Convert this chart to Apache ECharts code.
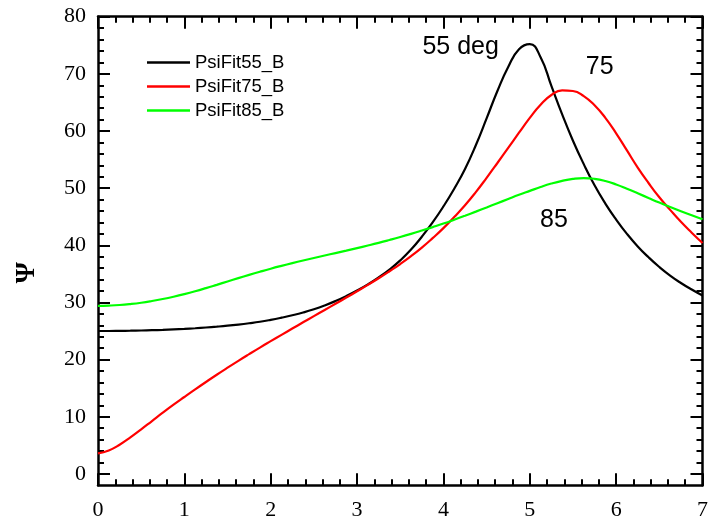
<!DOCTYPE html>
<html>
<head>
<meta charset="utf-8">
<script src="https://cdn.jsdelivr.net/npm/echarts@6/dist/echarts.min.js"></script>
<style>
html,body{margin:0;padding:0;background:#fff;}
#chart{width:711px;height:522px;}
</style>
</head>
<body>
<div id="chart"></div>
<script>
// ---- data (x step 0.125 from 0 to 7) ----
var xs = [0,0.125,0.25,0.375,0.5,0.625,0.75,0.875,1,1.125,1.25,1.375,1.5,1.625,1.75,1.875,2,2.125,2.25,2.375,2.5,2.625,2.75,2.875,3,3.125,3.25,3.375,3.5,3.625,3.75,3.875,4,4.125,4.25,4.375,4.5,4.625,4.75,4.875,5,5.125,5.25,5.375,5.5,5.625,5.75,5.875,6,6.125,6.25,6.375,6.5,6.625,6.75,6.875,7];
var psi55 = [25.0,25.0,25.02,25.05,25.09,25.14,25.2,25.28,25.37,25.48,25.61,25.76,25.93,26.13,26.36,26.62,26.95,27.33,27.75,28.23,28.8,29.47,30.24,31.11,32.08,33.16,34.37,35.75,37.35,39.25,41.5,44.0,46.8,49.9,53.35,57.5,62.2,67.0,71.2,74.3,75.2,72.9,67.9,62.9,58.3,54.2,50.5,47.3,44.5,42.0,39.8,37.9,36.2,34.7,33.4,32.25,31.2];
var psi75 = [3.6,4.1,5.1,6.4,7.8,9.25,10.7,12.1,13.45,14.78,16.08,17.35,18.58,19.78,20.95,22.1,23.22,24.33,25.43,26.52,27.6,28.68,29.76,30.85,31.95,33.07,34.23,35.45,36.72,38.1,39.6,41.25,43.0,44.95,47.0,49.3,51.8,54.4,57.05,59.7,62.3,64.6,66.3,67.1,67.0,66.1,64.5,62.3,59.6,56.6,53.6,50.9,48.4,46.2,44.1,42.2,40.4];
var psi85 = [29.4,29.45,29.55,29.72,29.95,30.25,30.6,31.0,31.45,31.95,32.5,33.08,33.67,34.25,34.82,35.37,35.9,36.4,36.88,37.34,37.78,38.21,38.64,39.07,39.51,39.96,40.43,40.93,41.45,42.0,42.58,43.18,43.8,44.47,45.17,45.89,46.62,47.36,48.1,48.83,49.52,50.2,50.8,51.28,51.62,51.76,51.63,51.25,50.65,49.9,49.1,48.28,47.47,46.7,45.96,45.25,44.57];
var seriesNames = ['PsiFit55_B','PsiFit75_B','PsiFit85_B'];
var seriesColors = ['#000000','#ff0000','#00ff00'];
var yMajorTicks = [0,10,20,30,40,50,60,70,80];
var yMinorTicks = [0,2,4,6,8,10,12,14,16,18,20,22,24,26,28,30,32,34,36,38,40,42,44,46,48,50,52,54,56,58,60,62,64,66,68,70,72,74,76,78,80];
var annoText = ['55 deg','75','85'];
var annoX = [4.2,5.81,5.28];
var annoY = [74.7,71.1,44.4];
var yAxisTitle = 'Ψ';
var yTitleValue = 35.2;

function pairs(ys){ return xs.map(function(x,i){ return [x, ys[i]]; }); }

var chart = echarts.init(document.getElementById('chart'), null, {renderer:'canvas'});
var axisCol = '#000';
var labelFont = {fontFamily:'Liberation Serif', fontSize:22, color:'#000'};

function yAxisDef(pos, ticks, len, showLabel, showLine){
  return {
    type:'value', position:pos, min:-2, max:80,
    splitLine:{show:false},
    axisLine:{show:showLine, onZero:false, lineStyle:{color:axisCol, width:2.5}},
    axisTick:{show:true, inside:true, length:len, customValues:ticks, lineStyle:{color:axisCol, width:2}},
    axisLabel:Object.assign({show:showLabel, customValues:yMajorTicks, margin:12}, labelFont)
  };
}
function xAxisDef(pos, showLabel){
  return {
    type:'value', position:pos, min:0, max:7, interval:1,
    splitLine:{show:false},
    axisLine:{show:true, onZero:false, lineStyle:{color:axisCol, width:2.5}},
    axisTick:{show:true, inside:true, length:12, lineStyle:{color:axisCol, width:2}},
    minorTick:{show:true, splitNumber:5, length:6, lineStyle:{color:axisCol, width:2}},
    axisLabel:Object.assign({show:showLabel, margin:14}, labelFont)
  };
}

var series = [psi55, psi75, psi85].map(function(ys, i){
  return {
    type:'line', name:seriesNames[i], data:pairs(ys),
    xAxisIndex:0, yAxisIndex:0,
    showSymbol:false, smooth:0.5,
    lineStyle:{color:seriesColors[i], width:2.2},
    itemStyle:{color:seriesColors[i]},
    z:3
  };
});

chart.setOption({
  animation:false,
  backgroundColor:'#fff',
  grid:{left:98, right:6, top:16.7, bottom:36.7, containLabel:false},
  legend:{
    show:true, orient:'vertical', left:147, top:53, padding:0,
    data:seriesNames, icon:'rect', itemWidth:43, itemHeight:2.5, itemGap:5,
    textStyle:{fontFamily:'Liberation Sans', fontSize:18.5, color:'#000'},
    selectedMode:false
  },
  xAxis:[xAxisDef('bottom', true), xAxisDef('top', false)],
  yAxis:[
    yAxisDef('left', yMajorTicks, 12, true, true),
    yAxisDef('left', yMinorTicks, 6, false, false),
    yAxisDef('right', yMajorTicks, 12, false, true),
    yAxisDef('right', yMinorTicks, 6, false, false)
  ],
  series:series
});

// text annotations placed at data coordinates
var graphics = annoText.map(function(t, i){
  var p = chart.convertToPixel({xAxisIndex:0, yAxisIndex:0}, [annoX[i], annoY[i]]);
  return {type:'text', x:p[0], y:p[1], z:10, silent:true,
    style:{text:t, fontFamily:'Liberation Sans', fontSize:25, fill:'#000', align:'center', verticalAlign:'middle'}};
});
var ty = chart.convertToPixel({yAxisIndex:0}, yTitleValue);
graphics.push({type:'text', x:27, y:ty, rotation:Math.PI/2, silent:true,
  style:{text:yAxisTitle, fontFamily:'Liberation Serif', fontWeight:'bold', fontSize:27, fill:'#000', align:'center', verticalAlign:'middle'}});
chart.setOption({graphic:graphics});
</script>
</body>
</html>
